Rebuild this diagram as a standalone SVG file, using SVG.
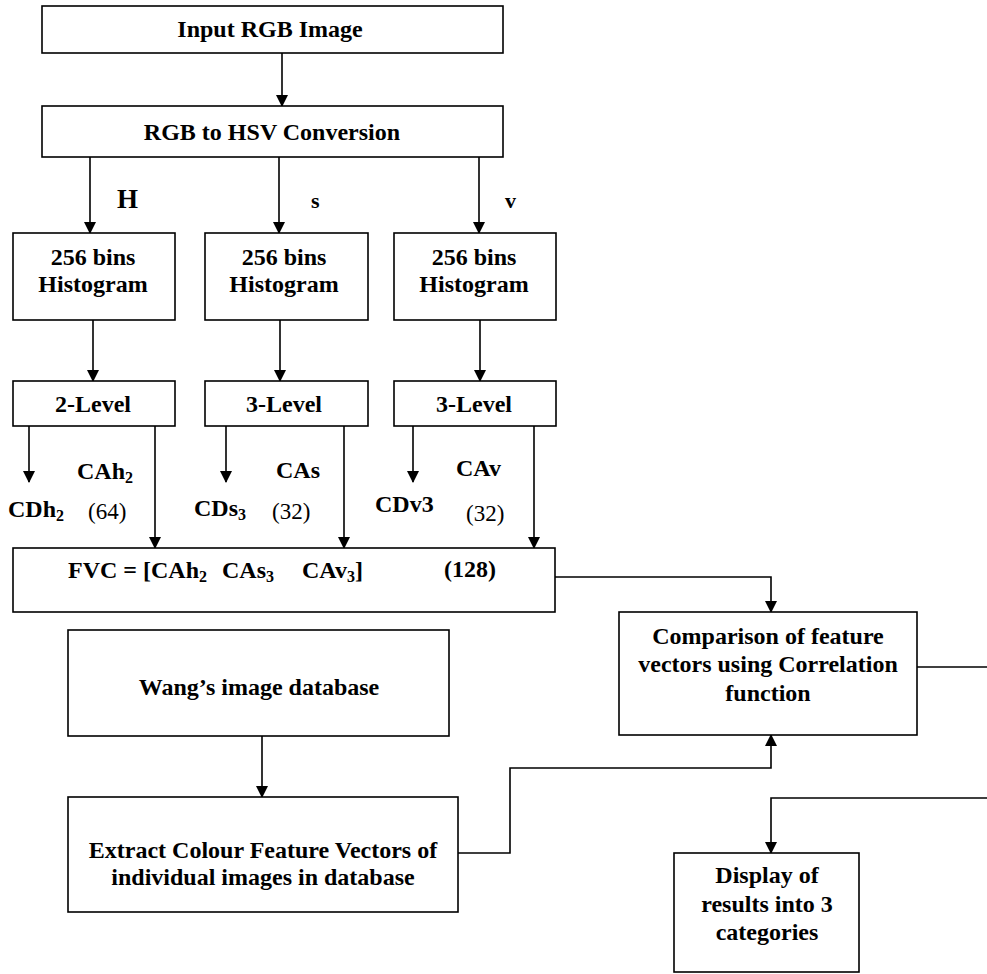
<svg xmlns="http://www.w3.org/2000/svg" width="987" height="974" viewBox="0 0 987 974">
<style>
.box{fill:#fff;stroke:#000;stroke-width:1.6}
.t{font-family:"Liberation Serif","Times New Roman",serif;font-weight:bold;font-size:24px;fill:#000;text-anchor:middle}
.l{font-family:"Liberation Serif","Times New Roman",serif;font-weight:bold;font-size:24px;fill:#000}
.n{font-family:"Liberation Serif","Times New Roman",serif;font-size:23px;fill:#000}
.sub{font-size:16px}
.c{fill:none;stroke:#000;stroke-width:1.6}
</style>
<defs>
<marker id="a" markerWidth="12" markerHeight="14" refX="11" refY="6" orient="auto" markerUnits="userSpaceOnUse">
<path d="M0,0 L12,6 L0,12 Z" fill="#000"/>
</marker>
</defs>
<g id="connectors">
<path class="c" d="M282,53 V106" marker-end="url(#a)"/>
<path class="c" d="M90,157 V233" marker-end="url(#a)"/>
<path class="c" d="M279,157 V233" marker-end="url(#a)"/>
<path class="c" d="M479,157 V233" marker-end="url(#a)"/>
<path class="c" d="M93,320 V381" marker-end="url(#a)"/>
<path class="c" d="M280,320 V381" marker-end="url(#a)"/>
<path class="c" d="M480,320 V381" marker-end="url(#a)"/>
<path class="c" d="M29,426 V482" marker-end="url(#a)"/>
<path class="c" d="M226,426 V482" marker-end="url(#a)"/>
<path class="c" d="M413,426 V482" marker-end="url(#a)"/>
<path class="c" d="M155,426 V548" marker-end="url(#a)"/>
<path class="c" d="M344,426 V548" marker-end="url(#a)"/>
<path class="c" d="M534,426 V548" marker-end="url(#a)"/>
<path class="c" d="M555,577 H771 V612" marker-end="url(#a)"/>
<path class="c" d="M917,667 H987"/>
<path class="c" d="M262,736 V797" marker-end="url(#a)"/>
<path class="c" d="M458,853 H510 V768 H771 V735" marker-end="url(#a)"/>
<path class="c" d="M987,798 H771 V853" marker-end="url(#a)"/>
</g>
<g id="input"><rect class="box" x="42" y="6" width="461" height="47"/><text class="t" x="270" y="37">Input RGB Image</text></g>
<g id="hsv"><rect class="box" x="42" y="106" width="461" height="51"/><text class="t" x="272" y="140">RGB to HSV Conversion</text></g>
<g id="labels">
<text class="l" x="117" y="208" style="font-size:27px">H</text>
<text class="l" x="311" y="208" style="font-size:22px">s</text>
<text class="l" x="505" y="208" style="font-size:22px">v</text>
</g>
<g id="hist-h"><rect class="box" x="13" y="233" width="162" height="87"/><text class="t" x="93" y="265">256 bins</text><text class="t" x="93" y="292">Histogram</text></g>
<g id="hist-s"><rect class="box" x="205" y="233" width="163" height="87"/><text class="t" x="284" y="265">256 bins</text><text class="t" x="284" y="292">Histogram</text></g>
<g id="hist-v"><rect class="box" x="394" y="233" width="162" height="87"/><text class="t" x="474" y="265">256 bins</text><text class="t" x="474" y="292">Histogram</text></g>
<g id="level-h"><rect class="box" x="13" y="381" width="162" height="45"/><text class="t" x="93" y="412">2-Level</text></g>
<g id="level-s"><rect class="box" x="205" y="381" width="163" height="45"/><text class="t" x="284" y="412">3-Level</text></g>
<g id="level-v"><rect class="box" x="394" y="381" width="162" height="45"/><text class="t" x="474" y="412">3-Level</text></g>
<g id="coeffs">
<text class="l" x="77" y="479">CAh<tspan class="sub" dy="4">2</tspan></text>
<text class="l" x="8" y="517">CDh<tspan class="sub" dy="4">2</tspan></text>
<text class="n" x="88" y="519">(64)</text>
<text class="l" x="276" y="478">CAs</text>
<text class="l" x="194" y="516">CDs<tspan class="sub" dy="4">3</tspan></text>
<text class="n" x="272" y="519">(32)</text>
<text class="l" x="456" y="476">CAv</text>
<text class="l" x="375" y="512">CDv3</text>
<text class="n" x="466" y="521">(32)</text>
</g>
<g id="fvc"><rect class="box" x="13" y="548" width="542" height="64"/>
<text class="l" x="68" y="578">FVC = [CAh<tspan class="sub" dy="4">2</tspan><tspan x="222" dy="-4">CAs</tspan><tspan class="sub" dy="4">3</tspan><tspan x="302" dy="-4">CAv</tspan><tspan class="sub" dy="4">3</tspan><tspan dy="-4">]</tspan></text>
<text class="l" x="444" y="577">(128)</text>
</g>
<g id="compare"><rect class="box" x="619" y="612" width="298" height="123"/>
<text class="t" x="768" y="644">Comparison of feature</text>
<text class="t" x="768" y="672">vectors using Correlation</text>
<text class="t" x="768" y="701">function</text>
</g>
<g id="wang"><rect class="box" x="68" y="630" width="381" height="106"/><text class="t" x="259" y="695">Wang’s image database</text></g>
<g id="extract"><rect class="box" x="68" y="797" width="390" height="115"/>
<text class="t" x="263" y="858">Extract Colour Feature Vectors of</text>
<text class="t" x="263" y="885">individual images in database</text>
</g>
<g id="display"><rect class="box" x="674" y="853" width="185" height="119"/>
<text class="t" x="767" y="883">Display of</text>
<text class="t" x="767" y="912">results into 3</text>
<text class="t" x="767" y="940">categories</text>
</g>
</svg>
